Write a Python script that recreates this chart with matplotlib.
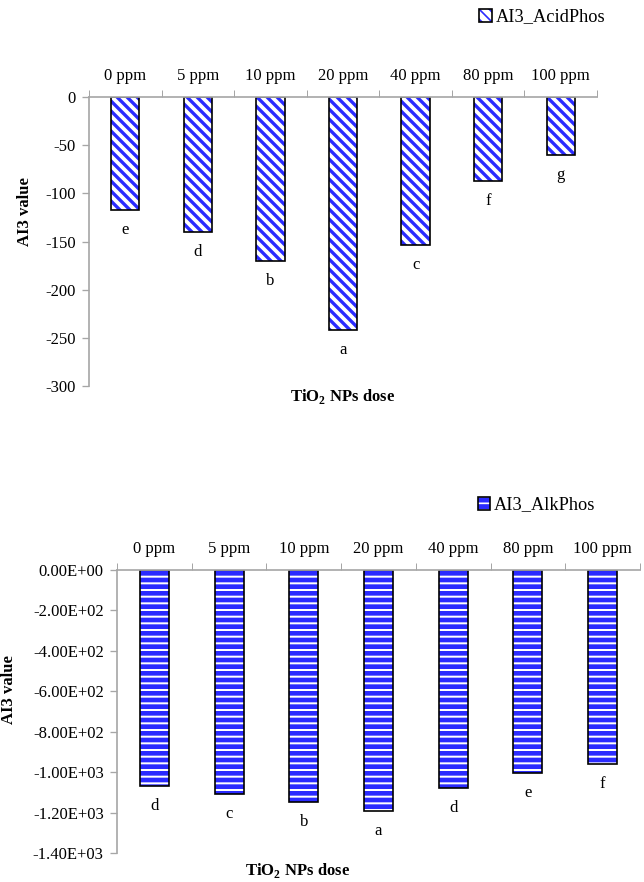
import numpy as np
import matplotlib
matplotlib.use("Agg")
import matplotlib.pyplot as plt
from matplotlib.ticker import FixedLocator, FuncFormatter
from matplotlib.patches import Patch
from matplotlib.legend_handler import HandlerTuple

plt.rcParams['font.family'] = ['Liberation Serif', 'DejaVu Serif']
plt.rcParams['mathtext.fontset'] = 'custom'
plt.rcParams['mathtext.rm'] = 'Liberation Serif'
plt.rcParams['mathtext.bf'] = 'Liberation Serif:bold'

doses = ['0 ppm', '5 ppm', '10 ppm', '20 ppm', '40 ppm', '80 ppm', '100 ppm']
acid_vals = [-117, -140, -170, -242, -154, -87, -60]
acid_letters = ['e', 'd', 'b', 'a', 'c', 'f', 'g']
alk_vals = [-1067, -1106, -1146, -1190, -1077, -1003, -958]
alk_letters = ['d', 'c', 'b', 'a', 'd', 'e', 'f']

DPI = 120
fig = plt.figure(figsize=(644 / DPI, 882 / DPI), dpi=DPI)
blue = '#2a2aff'
gray = '#a6a6a6'
fs = 10


def setup_axes(ax, n, ymin, ystep, fmt):
    x = np.arange(n)
    ax.set_xlim(-0.5, n - 0.5)
    ax.set_ylim(ymin, 0)
    ax.xaxis.tick_top()
    ax.set_xticks(x)
    ax.xaxis.set_minor_locator(FixedLocator(np.arange(n + 1) - 0.5))
    ax.tick_params(axis='x', which='major', length=0, pad=8, labelsize=fs)
    ax.tick_params(axis='x', which='minor', length=4, color=gray, direction='out')
    ax.set_yticks(np.arange(0, ymin - 1, -ystep))
    ax.yaxis.set_major_formatter(FuncFormatter(fmt))
    ax.tick_params(axis='y', length=4, color=gray, labelsize=fs, pad=4)
    for s in ['right', 'bottom']:
        ax.spines[s].set_visible(False)
    for s in ['left', 'top']:
        ax.spines[s].set_color(gray)
        ax.spines[s].set_linewidth(1.0)
    ax.patch.set_alpha(0)


x = np.arange(len(doses))

# top chart: acid phosphatase
ax1 = fig.add_axes([89 / 644, 1 - 386 / 882, 508 / 644, 289 / 882])
with plt.rc_context({'hatch.linewidth': 2.0}):
    ax1.bar(x, acid_vals, width=0.39, color='white', edgecolor=blue,
            hatch='\\\\\\\\', linewidth=0)
    h1 = Patch(facecolor='white', edgecolor=blue, hatch='\\\\\\\\', linewidth=0)
ax1.bar(x, acid_vals, width=0.39, fill=False, edgecolor='black', linewidth=1.0)
h1o = Patch(fill=False, edgecolor='black', linewidth=1.0)
setup_axes(ax1, len(doses), -300, 50, lambda v, p: '%d' % v)
ax1.set_xticklabels(doses)
for xi, v, t in zip(x, acid_vals, acid_letters):
    ax1.annotate(t, (xi, v), xytext=(0, -12), textcoords='offset points',
                 ha='center', va='center', fontsize=fs)

ax1.legend([(h1, h1o)], ['AI3_AcidPhos'], loc='center right', frameon=False,
           handler_map={tuple: HandlerTuple(ndivide=1, pad=0)},
           bbox_to_anchor=(622 / 644, 1 - 17 / 882), bbox_transform=fig.transFigure,
           fontsize=fs + 1, handlelength=0.7, handleheight=0.7, handletextpad=0.2)

fig.text(25 / 644, 1 - 212 / 882, 'AI3 value', rotation=90, ha='center', va='center',
         fontsize=fs, fontweight='bold')
fig.text(343 / 644, 1 - 397 / 882, r'TiO$_\mathbf{2}$ NPs dose', ha='center', va='center',
         fontsize=fs, fontweight='bold')

# bottom chart: alkaline phosphatase
ax2 = fig.add_axes([117 / 644, 1 - 853 / 882, 523 / 644, 283 / 882])
with plt.rc_context({'hatch.linewidth': 1.2}):
    ax2.bar(x, alk_vals, width=0.39, color=blue, edgecolor='white',
            hatch='---', linewidth=0)
    h2 = Patch(facecolor=blue, edgecolor='white', hatch='---', linewidth=0)
ax2.bar(x, alk_vals, width=0.39, fill=False, edgecolor='black', linewidth=1.0)
h2o = Patch(fill=False, edgecolor='black', linewidth=1.0)
setup_axes(ax2, len(doses), -1400, 200, lambda v, p: '{:.2E}'.format(v))
ax2.set_xticklabels(doses)
for xi, v, t in zip(x, alk_vals, alk_letters):
    ax2.annotate(t, (xi, v), xytext=(0, -12), textcoords='offset points',
                 ha='center', va='center', fontsize=fs)

ax2.legend([(h2, h2o)], ['AI3_AlkPhos'], loc='center right', frameon=False,
           handler_map={tuple: HandlerTuple(ndivide=1, pad=0)},
           bbox_to_anchor=(612 / 644, 1 - 505 / 882), bbox_transform=fig.transFigure,
           fontsize=fs + 1, handlelength=0.7, handleheight=0.7, handletextpad=0.2)

fig.text(9 / 644, 1 - 690 / 882, 'AI3 value', rotation=90, ha='center', va='center',
         fontsize=fs, fontweight='bold')
fig.text(298 / 644, 1 - 870 / 882, r'TiO$_\mathbf{2}$ NPs dose', ha='center', va='center',
         fontsize=fs, fontweight='bold')

fig.savefig('out.png', dpi=DPI)
